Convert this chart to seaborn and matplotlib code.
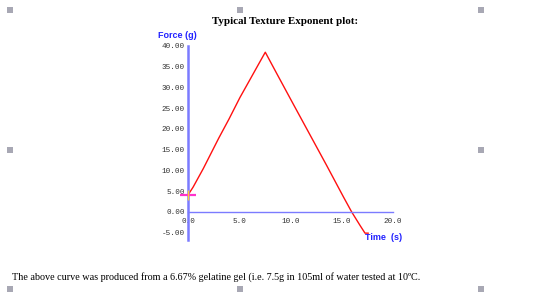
import matplotlib
matplotlib.use("Agg")
import matplotlib.pyplot as plt
import seaborn as sns
import pandas as pd
from matplotlib.patches import Rectangle

# ---- data ----
time_s = [0.0, 0.5, 1.5, 3.0, 4.0, 5.07, 6.0, 6.7, 7.54, 8.65, 10.27,
          11.9, 13.53, 15.15, 15.97, 16.8, 17.27, 17.6]
force_g = [4.1, 6.0, 10.5, 17.8, 22.4, 27.6, 31.7, 34.8, 38.5, 33.4, 26.0,
           18.6, 11.2, 3.7, 0.0, -3.3, -5.1, -5.1]
x_ticks = [0, 5, 10, 15, 20]
x_tick_labels = ["0.0", "5.0", "10.0", "15.0", "20.0"]
y_ticks = [-5, 0, 5, 10, 15, 20, 25, 30, 35, 40]
y_tick_labels = ["-5.00", "0.00", "5.00", "10.00", "15.00", "20.00",
                 "25.00", "30.00", "35.00", "40.00"]
title = "Typical Texture Exponent plot:"
caption = ("The above curve was produced from a 6.67% gelatine gel (i.e. 7.5g in "
           "105ml of water tested at 10\u00baC.")

sns.set_theme(style="white")
plt.rcParams["font.family"] = ["DejaVu Sans"]

W, H = 535, 292
fig = plt.figure(figsize=(W / 100, H / 100), dpi=100)
fig.patch.set_facecolor("white")

# axes placed in pixel terms: x 188..393, y 46..240
ax = fig.add_axes([188 / W, 1 - 240 / H, 205 / W, 194 / H])
ax.set_facecolor("none")

df = pd.DataFrame({"time": time_s, "force": force_g})
sns.lineplot(data=df, x="time", y="force", ax=ax, color="#ff1010",
             linewidth=1.0, estimator=None, sort=False)

# start marker
ax.plot([time_s[0]], [force_g[0]], marker="_", color="#ff33cc",
        markersize=11, markeredgewidth=1.6, clip_on=False, zorder=5)
ax.plot([time_s[0]], [force_g[0]], marker="|", color="#ffcc33",
        markersize=7, markeredgewidth=1.0, clip_on=False, zorder=6)

ax.set_xlim(0, 20)
ax.set_ylim(-6.75, 40)
ax.set_xlabel("")
ax.set_ylabel("")

axis_blue = "#7b7bff"
for s in ["top", "right"]:
    ax.spines[s].set_visible(False)
ax.spines["left"].set_color(axis_blue)
ax.spines["left"].set_linewidth(1.8)
ax.spines["bottom"].set_color(axis_blue)
ax.spines["bottom"].set_linewidth(1.0)
ax.spines["bottom"].set_position(("data", 0))

ax.set_xticks(x_ticks)
ax.set_xticklabels(x_tick_labels)
ax.set_yticks(y_ticks)
ax.set_yticklabels(y_tick_labels)
ax.tick_params(axis="x", direction="out", length=3, width=0.8, color=axis_blue,
               pad=1, labelsize=5.5, labelcolor="#333333")
ax.tick_params(axis="y", direction="out", length=2, width=0.8, color=axis_blue,
               pad=0.3, labelsize=5.5, labelcolor="#333333")
for lbl in ax.get_xticklabels() + ax.get_yticklabels():
    lbl.set_family("Liberation Mono")
ax.grid(False)

# axis titles
fig.text(158 / W, 1 - 36 / H, "Force (g)", color="#2222ff", fontsize=6.5,
         fontweight="bold", family="Liberation Sans", ha="left", va="center")
fig.text(365 / W, 1 - 237 / H, "Time  (s)", color="#2222ff", fontsize=6.5,
         fontweight="bold", family="Liberation Sans", ha="left", va="center")

# title and caption
fig.text(285 / W, 1 - 22 / H, title, fontsize=7.9, fontweight="bold",
         family="Liberation Serif", ha="center", va="center", color="black")
fig.text(12 / W, 1 - 277 / H, caption, fontsize=7.3, family="Liberation Serif",
         ha="left", va="center", color="black")

# selection handles
for (hx, hy) in [(10, 10), (240, 10), (481, 10), (10, 150), (481, 150),
                 (10, 289), (240, 289), (481, 289)]:
    fig.patches.append(Rectangle(((hx - 3) / W, 1 - (hy + 3) / H), 6 / W, 6 / H,
                                 transform=fig.transFigure, facecolor="#a8a8b4",
                                 edgecolor="none"))

fig.savefig("out.png", dpi=100, facecolor="white")
